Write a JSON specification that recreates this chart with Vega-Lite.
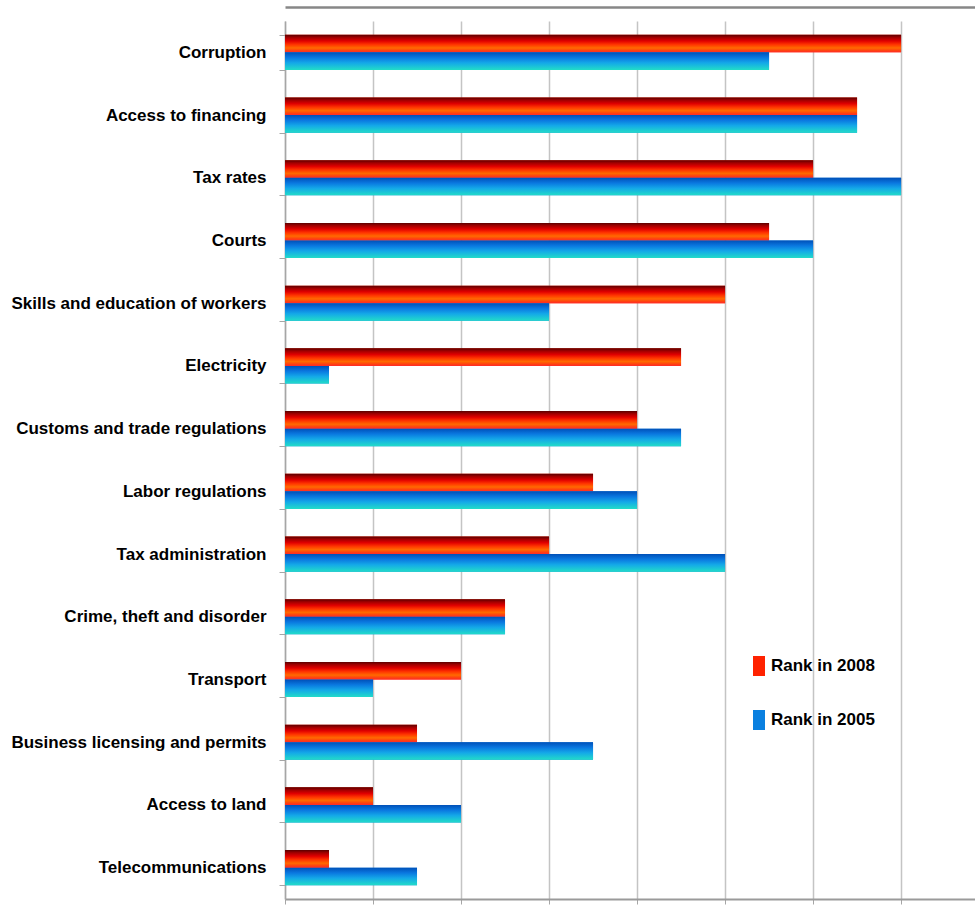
{
  "$schema": "https://vega.github.io/schema/vega-lite/v6.json",
  "width": 690,
  "height": 878,
  "autosize": {"type": "none"},
  "padding": {"left": 285, "top": 21, "right": 0, "bottom": 6},
  "background": "white",
  "config": {"view": {"stroke": null}},
  "data": {"values": [
    {"factor": "Corruption", "series": "Rank in 2008", "rank": 14},
    {"factor": "Corruption", "series": "Rank in 2005", "rank": 11},
    {"factor": "Access to financing", "series": "Rank in 2008", "rank": 13},
    {"factor": "Access to financing", "series": "Rank in 2005", "rank": 13},
    {"factor": "Tax rates", "series": "Rank in 2008", "rank": 12},
    {"factor": "Tax rates", "series": "Rank in 2005", "rank": 14},
    {"factor": "Courts", "series": "Rank in 2008", "rank": 11},
    {"factor": "Courts", "series": "Rank in 2005", "rank": 12},
    {"factor": "Skills and education of workers", "series": "Rank in 2008", "rank": 10},
    {"factor": "Skills and education of workers", "series": "Rank in 2005", "rank": 6},
    {"factor": "Electricity", "series": "Rank in 2008", "rank": 9},
    {"factor": "Electricity", "series": "Rank in 2005", "rank": 1},
    {"factor": "Customs and trade regulations", "series": "Rank in 2008", "rank": 8},
    {"factor": "Customs and trade regulations", "series": "Rank in 2005", "rank": 9},
    {"factor": "Labor regulations", "series": "Rank in 2008", "rank": 7},
    {"factor": "Labor regulations", "series": "Rank in 2005", "rank": 8},
    {"factor": "Tax administration", "series": "Rank in 2008", "rank": 6},
    {"factor": "Tax administration", "series": "Rank in 2005", "rank": 10},
    {"factor": "Crime, theft and disorder", "series": "Rank in 2008", "rank": 5},
    {"factor": "Crime, theft and disorder", "series": "Rank in 2005", "rank": 5},
    {"factor": "Transport", "series": "Rank in 2008", "rank": 4},
    {"factor": "Transport", "series": "Rank in 2005", "rank": 2},
    {"factor": "Business licensing and permits", "series": "Rank in 2008", "rank": 3},
    {"factor": "Business licensing and permits", "series": "Rank in 2005", "rank": 7},
    {"factor": "Access to land", "series": "Rank in 2008", "rank": 2},
    {"factor": "Access to land", "series": "Rank in 2005", "rank": 4},
    {"factor": "Telecommunications", "series": "Rank in 2008", "rank": 1},
    {"factor": "Telecommunications", "series": "Rank in 2005", "rank": 3}
  ]},
  "layer": [
    {
      "mark": {"type": "bar", "opacity": 0},
      "encoding": {
        "y": {"field": "factor", "type": "nominal", "sort": null,
              "scale": {"paddingInner": 0.44, "paddingOuter": 0.22}, "axis": null},
        "x": {"field": "rank", "type": "quantitative",
              "scale": {"domain": [0, 15.68], "nice": false, "zero": true},
              "axis": {"orient": "top", "offset": 14, "title": null, "labels": false, "ticks": false, "grid": false,
                       "domain": true, "domainColor": "#878787", "domainWidth": 2.5}}
      }
    },
    {
      "mark": {"type": "bar"},
      "encoding": {
        "y": {"field": "factor", "type": "nominal", "sort": null,
              "scale": {"paddingInner": 0.44, "paddingOuter": 0.22},
              "axis": {"title": null, "tickBand": "extent", "tickSize": 6, "tickColor": "#A6A6A6",
                       "domainColor": "#A6A6A6", "domainWidth": 1.5, "labelPadding": 13,
                       "labelFont": "Liberation Sans", "labelFontWeight": "bold", "labelFontSize": 17,
                       "labelColor": "#000000", "labelLimit": 400}},
        "yOffset": {"field": "series", "type": "nominal", "sort": ["Rank in 2008", "Rank in 2005"],
                    "scale": {"paddingInner": 0, "paddingOuter": 0}},
        "x": {"field": "rank", "type": "quantitative",
              "scale": {"domain": [0, 15.68], "nice": false, "zero": true},
              "axis": {"title": null, "labels": false, "values": [0, 2, 4, 6, 8, 10, 12, 14],
                       "tickSize": 5, "tickColor": "#A6A6A6", "grid": true, "gridColor": "#C4C4C4", "gridWidth": 1.5,
                       "domainColor": "#9A9A9A", "domainWidth": 2}},
        "color": {"field": "series", "type": "nominal",
                  "scale": {"domain": ["Rank in 2008", "Rank in 2005"], "range": ["#FF2200", "#0A80E0"]},
                  "legend": {"title": null, "orient": "none", "legendX": 464, "legendY": 635,
                             "symbolType": "M-0.6,-1H0.6V1H-0.6Z", "symbolSize": 400, "symbolStrokeWidth": 0,
                             "symbolOpacity": 1,
                             "labelFont": "Liberation Sans", "labelFontWeight": "bold", "labelFontSize": 17,
                             "labelColor": "#000000", "labelOffset": 2, "rowPadding": 34, "labelLimit": 300,
                             "encode": {"symbols": {"update": {"fill": {"signal": "datum.value === 'Rank in 2008' ? {gradient: 'linear', x1: 0, y1: 0, x2: 0, y2: 1, stops: [{offset: 0, color: '#5A0000'}, {offset: 0.2, color: '#B00000'}, {offset: 0.45, color: '#F00000'}, {offset: 0.75, color: '#FF6A00'}, {offset: 1, color: '#FF3010'}]} : {gradient: 'linear', x1: 0, y1: 0, x2: 0, y2: 1, stops: [{offset: 0, color: '#0050B8'}, {offset: 0.35, color: '#0A80E0'}, {offset: 0.7, color: '#18B4E0'}, {offset: 1, color: '#22DCC8'}]}"}}}}}}
      }
    },
    {
      "transform": [{"filter": "datum.series === 'Rank in 2008'"}],
      "mark": {"type": "bar",
               "fill": {"gradient": "linear", "x1": 0, "y1": 0, "x2": 0, "y2": 1,
                        "stops": [{"offset": 0, "color": "#5A0000"}, {"offset": 0.15, "color": "#A00000"},
                                  {"offset": 0.35, "color": "#E00000"}, {"offset": 0.55, "color": "#FF3300"},
                                  {"offset": 0.75, "color": "#FF6A00"}, {"offset": 0.9, "color": "#FF4010"},
                                  {"offset": 1, "color": "#FF2A2A"}]}},
      "encoding": {
        "y": {"field": "factor", "type": "nominal", "sort": null,
              "scale": {"paddingInner": 0.44, "paddingOuter": 0.22}, "axis": null},
        "yOffset": {"field": "series", "type": "nominal", "sort": ["Rank in 2008", "Rank in 2005"],
                    "scale": {"paddingInner": 0, "paddingOuter": 0}},
        "x": {"field": "rank", "type": "quantitative",
              "scale": {"domain": [0, 15.68], "nice": false, "zero": true}, "axis": null}
      }
    },
    {
      "transform": [{"filter": "datum.series === 'Rank in 2005'"}],
      "mark": {"type": "bar",
               "fill": {"gradient": "linear", "x1": 0, "y1": 0, "x2": 0, "y2": 1,
                        "stops": [{"offset": 0, "color": "#0050B8"}, {"offset": 0.3, "color": "#0A78E0"},
                                  {"offset": 0.6, "color": "#14A8E8"}, {"offset": 1, "color": "#22DCC8"}]}},
      "encoding": {
        "y": {"field": "factor", "type": "nominal", "sort": null,
              "scale": {"paddingInner": 0.44, "paddingOuter": 0.22}, "axis": null},
        "yOffset": {"field": "series", "type": "nominal", "sort": ["Rank in 2008", "Rank in 2005"],
                    "scale": {"paddingInner": 0, "paddingOuter": 0}},
        "x": {"field": "rank", "type": "quantitative",
              "scale": {"domain": [0, 15.68], "nice": false, "zero": true}, "axis": null}
      }
    }
  ],
  "resolve": {"axis": {"x": "independent", "y": "independent"}}
}
